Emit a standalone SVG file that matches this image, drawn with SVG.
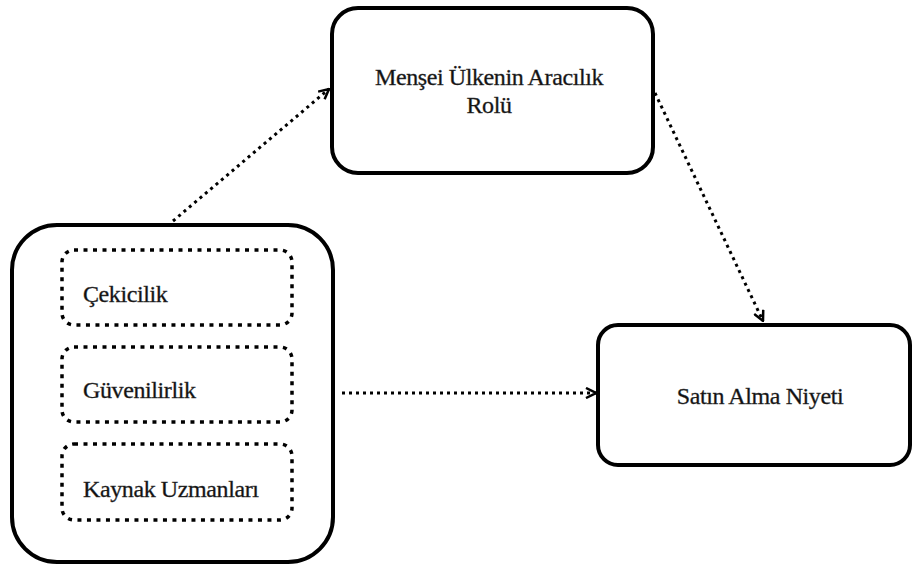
<svg xmlns="http://www.w3.org/2000/svg" width="913" height="568" viewBox="0 0 913 568">
  <style>
    .box { fill: #fff; stroke: #000; stroke-width: 4; }
    .sub { fill: none; stroke: #000; stroke-width: 3.5; stroke-dasharray: 4 5.5; }
    .lbl { font-family: 'Liberation Serif', 'DejaVu Serif', 'Times New Roman', serif; font-size: 24px; fill: #111; stroke: #333; stroke-width: 0.35; letter-spacing: -0.4px; }
    .mid { text-anchor: middle; }
    .link { fill: none; stroke: #000; stroke-width: 3; stroke-dasharray: 3 4; marker-end: url(#chev); }
  </style>
  <defs>
    <marker id="chev" viewBox="0 0 12 12" refX="11" refY="6" markerWidth="12" markerHeight="12" markerUnits="userSpaceOnUse" orient="auto">
      <path d="M1,1 L11,6 L1,11" fill="none" stroke="#000" stroke-width="2.5" stroke-linejoin="miter"/>
    </marker>
  </defs>

  <!-- connectors -->
  <g id="connectors">
    <line class="link" x1="173" y1="221" x2="329" y2="89"/>
    <line class="link" x1="655" y1="93" x2="763" y2="321"/>
    <line class="link" x1="342" y1="393" x2="596" y2="393"/>
  </g>

  <!-- mediator -->
  <g id="node-mediator">
    <rect class="box" x="332" y="8" width="321" height="165" rx="26" ry="26"/>
    <text class="lbl mid" x="489" y="85">Menşei Ülkenin Aracılık</text>
    <text class="lbl mid" x="489" y="113">Rolü</text>
  </g>

  <!-- source characteristics -->
  <g id="node-source">
    <rect class="box" x="12" y="225" width="321" height="337" rx="45" ry="45"/>
    <g id="node-cekicilik">
      <rect class="sub" x="62" y="250" width="230" height="75" rx="12" ry="12"/>
      <text class="lbl" x="83" y="302">Çekicilik</text>
    </g>
    <g id="node-guvenilirlik">
      <rect class="sub" x="62" y="347" width="230" height="75" rx="12" ry="12"/>
      <text class="lbl" x="83" y="398">Güvenilirlik</text>
    </g>
    <g id="node-uzmanlik">
      <rect class="sub" x="62" y="444" width="230" height="76" rx="12" ry="12"/>
      <text class="lbl" x="83" y="497">Kaynak Uzmanları</text>
    </g>
  </g>

  <!-- outcome -->
  <g id="node-intention">
    <rect class="box" x="598" y="325" width="312" height="140" rx="20" ry="20"/>
    <text class="lbl mid" x="760" y="404">Satın Alma Niyeti</text>
  </g>
</svg>
